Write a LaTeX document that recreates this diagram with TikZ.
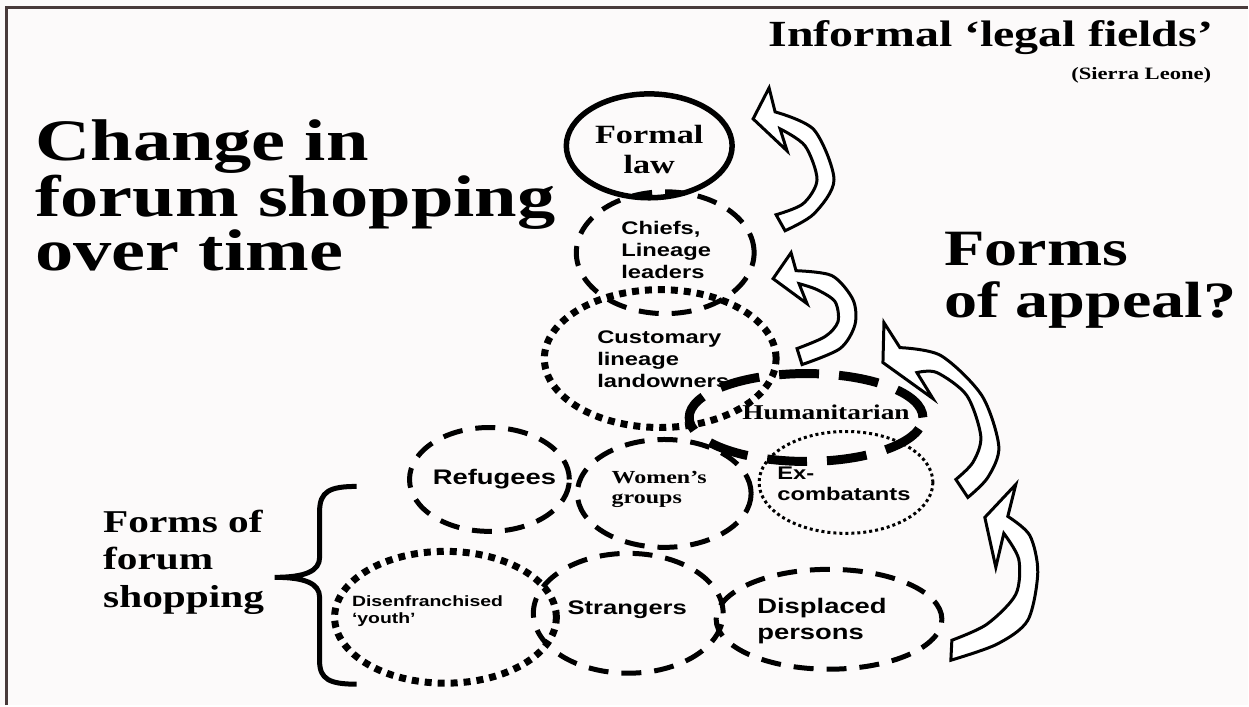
\documentclass[tikz,border=0pt]{standalone}
\usepackage{fontspec}
\setmainfont{Liberation Serif}[FakeStretch=1.3]
\setsansfont{Liberation Sans}[FakeStretch=1.3]
\usetikzlibrary{shapes.geometric}
\definecolor{paper}{RGB}{252,250,250}
\definecolor{rim}{RGB}{72,58,58}

\begin{document}
\begin{tikzpicture}[x=0.2mm, y=-0.2mm,
  ring/.style 2 args={ellipse, draw, inner sep=0, minimum width=#1*0.4mm, minimum height=#2*0.4mm},
  solidring/.style={line width=1.1mm},
  dashring/.style={line width=1mm, dash pattern=on 4mm off 2.6mm},
  heavyring/.style={line width=1.8mm, dash pattern=on 8mm off 4mm},
  dotring/.style={line width=1.4mm, dash pattern=on 1.4mm off 1.2mm},
  thinring/.style={line width=0.6mm, dash pattern=on 0.6mm off 0.6mm},
  serif/.style 2 args={font=\bfseries\rmfamily\fontsize{#1}{#2}\selectfont, inner sep=0, align=left},
  sans/.style 2 args={font=\bfseries\sffamily\fontsize{#1}{#2}\selectfont, inner sep=0, align=left},
  bandarrow/.style={draw, fill=white, line width=0.6mm, line join=miter}]

\fill[paper] (0,0) rectangle (1249,706);
\draw[rim, line width=0.6mm] (7,706) -- (7,8) -- (1249,8);

\node[serif={21}{24}, anchor=base east] (fields) at (1215,47) {Informal ‘legal fields’};
\node[serif={9.9}{12}, anchor=base east] (place) at (1213,80) {(Sierra Leone)};
\node[serif={33.5}{30.8}, anchor=north west] (title) at (35,119) {Change in\\forum shopping\\over time};
\node[serif={29}{29.5}, anchor=north west] (appeal) at (945,232) {Forms\\of appeal?};
\node[serif={18.1}{21.5}, anchor=north west] (shop) at (103,510) {Forms of\\forum\\shopping};

\node[ring={83}{52}, solidring] (formal) at (650,146) {};
\node[ring={89}{61}, dashring] (chiefs) at (666,253) {};
\node[ring={116}{69}, dotring] (custom) at (661,359) {};
\node[ring={117}{44}, heavyring] (human) at (807,418) {};
\node[ring={80}{52}, dashring] (refug) at (490,480) {};
\node[ring={87}{54}, dashring] (women) at (665,494) {};
\node[ring={87}{51}, thinring] (excomb) at (847,483) {};
\node[ring={111}{66}, dotring] (youth) at (446,618) {};
\node[ring={95}{60}, dashring] (strang) at (629,614) {};
\node[ring={113}{50}, dashring] (displ) at (830,620) {};

\node[serif={15}{17}, align=center] (formal-t) at (650,150) {Formal\\law};
\node[sans={10.4}{12.6}] (chiefs-t) at (667,250) {Chiefs,\\Lineage\\leaders};
\node[sans={10.4}{12.5}] (custom-t) at (664,360) {Customary\\lineage\\landowners};
\node[serif={12}{14}] (human-t) at (827,413) {Humanitarian};
\node[sans={12}{14}] (refug-t) at (495,480) {Refugees};
\node[serif={10.5}{11.5}] (women-t) at (660,490) {Women's\\groups};
\node[sans={10.4}{12}] (excomb-t) at (845,484) {Ex-\\combatants};
\node[sans={8.5}{10}] (youth-t) at (428,612) {Disenfranchised\\‘youth’};
\node[sans={11.2}{14}] (strang-t) at (628,610) {Strangers};
\node[sans={12}{14.7}] (displ-t) at (823,622) {Displaced\\persons};

\draw[line width=1mm] (357,487) .. controls (330,487) and (320,492) .. (320,512) -- (320,558) .. controls (320,572) and (305,578) .. (275,578) .. controls (305,578) and (320,584) .. (320,598) -- (320,662) .. controls (320,680) and (330,685) .. (357,685);

\draw[bandarrow] (777,215) -- plot[smooth] coordinates {(786,231) (815,214) (835,180) (815,130) (776,112)} -- (770,88) -- (754,119) -- (788,151) -- plot[smooth] coordinates {(781,129) (806,146) (818,180) (804,204) (777,215)} -- cycle;
\draw[bandarrow] (798,349) -- plot[smooth] coordinates {(803,365) (841,349) (856,325) (854,300) (833,276) (797,271)} -- (792,253) -- (774,279) -- (808,304) -- plot[smooth] coordinates {(800,284) (818,290) (836,302) (839,322) (826,337) (798,349)} -- cycle;
\draw[bandarrow] (957,480) -- plot[smooth] coordinates {(969,498) (989,478) (1000,447) (983,396) (942,356) (901,348)} -- (885,323) -- (884,363) -- (934,399) -- plot[smooth] coordinates {(918,373) (938,373) (968,396) (982,437) (974,463) (957,480)} -- cycle;
\draw[bandarrow] (953,641) -- plot[smooth] coordinates {(952,661) (998,645) (1029,621) (1039,573) (1031,536) (1009,517)} -- (1017,485) -- (986,518) -- (997,568) -- plot[smooth] coordinates {(1005,534) (1020,560) (1017,595) (988,625) (953,641)} -- cycle;

\end{tikzpicture}
\end{document}
